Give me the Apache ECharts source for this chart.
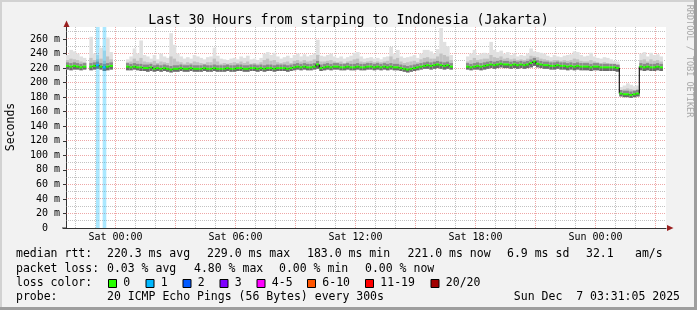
<!DOCTYPE html>
<html><head><meta charset="utf-8">
<script src="https://cdn.jsdelivr.net/npm/echarts@6/dist/echarts.min.js"></script>
<style>html,body{margin:0;padding:0;background:#f2f2f2}#c{width:697px;height:310px}</style>
</head><body><div id="c"></div>
<script>
// ---------- data ----------
const titleText = 'Last 30 Hours from starping to Indonesia (Jakarta)';
const startHour = -2.475;          // hours relative to Sat 00:00 (Fri 21:31)
const spanHours = 30;
const stepHours = 1 / 6;           // 10-minute samples
const xTickHours = [0, 6, 12, 18, 24];
const xTickLabels = ['Sat 00:00', 'Sat 06:00', 'Sat 12:00', 'Sat 18:00', 'Sun 00:00'];
const yTickValues = [0, 20, 40, 60, 80, 100, 120, 140, 160, 180, 200, 220, 240, 260];

// median RTT (ms)
const median = [
  223,222,223,222,221,222,null,222,223,224,
  222,221,222,223,null,null,null,null,222,221,
  222,221,221,220,220,221,219,220,219,220,
  219,218,219,219,220,219,219,220,219,219,
  219,220,219,219,220,219,219,219,220,219,
  219,220,220,219,219,220,220,219,220,219,
  220,220,219,220,220,220,219,220,221,222,
  221,222,221,221,222,225,220,221,222,221,
  222,222,221,221,222,221,221,222,221,221,
  222,222,221,222,221,222,221,222,221,221,
  220,219,218,219,220,221,222,223,224,223,
  224,225,224,223,224,222,null,null,null,null,
  222,221,222,223,222,223,224,225,224,225,
  226,225,225,224,225,224,225,224,225,227,
  229,226,225,224,224,223,223,224,223,223,
  222,223,222,223,222,222,222,221,222,222,
  221,221,221,221,221,220,185,184,184,183,
  184,185,222,221,222,221,221,222,221,null
];
// lowest ping of each sample (ms)
const smokeLo = [
  218,217,218,218,217,218,null,217,218,219,
  218,216,217,218,null,null,null,null,217,217,
  218,217,216,216,215,216,215,216,215,216,
  215,214,215,215,216,215,215,216,215,215,
  215,216,215,215,216,215,215,215,216,215,
  215,216,216,215,215,216,216,215,216,215,
  216,216,215,216,216,216,215,216,217,218,
  217,218,217,217,218,219,216,217,218,217,
  218,218,217,217,218,217,217,218,217,217,
  218,218,217,218,217,218,217,218,217,217,
  216,215,214,215,216,217,218,219,219,218,
  219,220,219,218,219,218,null,null,null,null,
  218,217,218,218,217,218,219,220,219,220,
  221,220,220,219,220,219,220,219,220,221,
  223,221,220,219,219,218,218,219,218,218,
  217,218,217,218,217,217,217,216,217,217,
  216,216,216,216,216,215,181,180,180,179,
  180,181,217,216,217,216,216,217,216,null
];
// upper edge of dense smoke (ms)
const smokeMid = [
  231,233,232,231,229,228,null,234,231,232,
  233,230,236,232,null,null,null,null,228,229,
  233,230,234,229,228,228,230,227,229,228,
  227,236,233,229,228,226,228,227,229,228,
  227,226,228,228,233,229,226,227,226,227,
  228,227,229,227,229,226,227,226,228,231,
  233,230,231,228,227,228,229,227,230,231,
  229,231,229,230,232,238,229,229,230,231,
  229,228,229,227,229,230,232,233,229,228,
  229,230,228,229,228,229,230,236,232,234,
  229,227,228,229,230,228,232,234,235,233,
  233,236,240,238,236,231,null,null,null,null,
  229,231,234,231,232,233,233,238,235,234,
  236,233,234,232,233,231,232,231,233,237,
  236,235,233,232,231,230,231,231,230,231,
  230,231,233,232,230,229,229,231,229,228,
  227,228,227,226,225,224,190,191,192,191,
  190,191,231,232,229,232,230,231,229,null
];
// highest ping of each sample (ms)
const smokeHi = [
  238,245,243,240,236,234,null,263,240,238,
  248,244,262,242,null,null,null,null,232,236,
  247,240,258,238,236,233,238,232,240,236,
  234,268,252,240,236,233,235,233,238,236,
  234,232,235,236,248,237,233,232,231,233,
  234,232,236,234,237,232,233,231,234,240,
  242,238,241,236,233,235,237,234,238,240,
  236,239,236,238,240,259,237,236,238,240,
  236,234,236,233,235,237,241,242,236,233,
  234,235,233,234,232,235,236,249,240,245,
  236,234,235,236,238,234,240,245,245,243,
  240,246,275,256,250,238,null,null,null,null,
  236,240,245,238,240,241,240,256,245,242,
  244,240,242,238,240,236,238,237,240,247,
  243,242,241,240,237,235,238,236,235,237,
  238,239,243,242,238,236,237,241,236,234,
  233,235,234,232,230,229,194,196,199,197,
  195,196,240,242,236,241,238,239,236,null
];
// samples with packet loss (index into the arrays above) and lost pings
const lossSamples = [9, 11];
const lossPings = [1, 1];

const lossLabels = ['0', '1', '2', '3', '4-5', '6-10', '11-19', '20/20'];
const lossColors = ['#26ff00', '#00b8ff', '#0059ff', '#7e00ff', '#ff00ff', '#ff5500', '#ff0000', '#a10000'];

const statsMedian = ['median rtt:', '220.3 ms avg', '229.0 ms max', '183.0 ms min', '221.0 ms now', '6.9 ms sd', '32.1', 'am/s'];
const statsLoss = ['packet loss:', '0.03 % avg', '4.80 % max', '0.00 % min', '0.00 % now'];
const probeText = ['probe:', '20 ICMP Echo Pings (56 Bytes) every 300s'];
const dateText = 'Sun Dec  7 03:31:05 2025';
const yAxisName = 'Seconds';
const sideText = 'RRDTOOL / TOBI OETIKER';

// ---------- layout / style ----------
const xMin = startHour, xMax = startHour + spanHours, yMax = 276.5;
const mono = '"DejaVu Sans Mono", monospace';
const legendFont = '11.5px ' + mono;
const statsMedianX = [16, 107, 207, 307, 407.5, 507, 586, 635];
const statsLossX = [16, 107, 194, 279, 365];
const probeX = [16, 107];
const lossBoxX = [108, 145.5, 182.5, 219.5, 256.5, 307, 365, 430.5];
const lineY = [254.5, 269, 283, 297.5];

function lossClass(k) {
  if (k <= 0) return 0;
  if (k <= 3) return k;
  if (k <= 5) return 4;
  if (k <= 10) return 5;
  if (k <= 19) return 6;
  return 7;
}

const sampleData = [];
median.forEach((m, i) => {
  if (m == null) return;
  sampleData.push([startHour + i * stepHours, m, smokeLo[i], smokeMid[i], smokeHi[i], i]);
});

const gridData = [];
for (let h = Math.ceil(xMin); h <= Math.floor(xMax); h++) gridData.push([0, h, h % 3 === 0 ? 1 : 0]);
for (let v = 10; v < yMax; v += 10) gridData.push([1, v, v % 20 === 0 ? 1 : 0]);

function renderGrid(params, api) {
  const kind = api.value(0), v = api.value(1), major = api.value(2);
  const stroke = major ? 'rgba(222,79,79,0.5)' : 'rgba(143,143,143,0.55)';
  if (kind === 0) {
    const a = api.coord([v, 0]), b = api.coord([v, yMax]);
    const x = Math.floor(a[0]) + 0.5;
    return {type: 'line', shape: {x1: x, y1: a[1], x2: x, y2: b[1]}, style: {stroke, lineWidth: 1, lineDash: [1, 1]}};
  }
  const a = api.coord([xMin, v]), b = api.coord([xMax, v]);
  const y = Math.floor(a[1]) + 0.5;
  return {type: 'line', shape: {x1: a[0], y1: y, x2: b[0], y2: y}, style: {stroke, lineWidth: 1, lineDash: [1, 1]}};
}

function renderSample(params, api) {
  const t = api.value(0), med = api.value(1), lo = api.value(2), mid = api.value(3), hi = api.value(4), idx = api.value(5);
  const p0 = api.coord([t, med]), p1 = api.coord([t + stepHours, med]);
  const x0 = p0[0], w = p1[0] - p0[0] + 0.3;
  const yMed = p0[1];
  const yLo = api.coord([t, lo])[1], yMid = api.coord([t, mid])[1], yHi = api.coord([t, hi])[1];
  const ch = [];
  ch.push({type: 'rect', shape: {x: x0, y: yHi, width: w, height: yLo - yHi}, style: {fill: '#e0e0e0'}});
  ch.push({type: 'rect', shape: {x: x0, y: yMid, width: w, height: yLo - yMid}, style: {fill: '#c2c2c2'}});
  ch.push({type: 'rect', shape: {x: x0, y: yMed - 3.5, width: w, height: 2.5}, style: {fill: '#8a8a8a'}});
  ch.push({type: 'rect', shape: {x: x0, y: yMed, width: w, height: yLo - yMed}, style: {fill: '#6a6a6a'}});
  let col = lossColors[0];
  const li = lossSamples.indexOf(idx);
  if (li >= 0) {
    col = lossColors[lossClass(lossPings[li])];
    const top = api.coord([t, yMax])[1], bot = api.coord([t, 0])[1];
    ch.push({type: 'rect', shape: {x: x0, y: top, width: w, height: bot - top}, style: {fill: col, opacity: 0.33}});
  }
  const prev = idx > 0 ? median[idx - 1] : null;
  if (prev != null && prev !== med) {
    const yp = api.coord([t, prev])[1];
    ch.push({type: 'line', shape: {x1: x0, y1: yp, x2: x0, y2: yMed}, style: {stroke: '#1a1a1a', lineWidth: 1.2}});
  }
  ch.push({type: 'rect', shape: {x: x0, y: yMed - 1, width: w, height: 2}, style: {fill: col}});
  return {type: 'group', children: ch};
}

function txt(text, x, y, font, align, extra) {
  return Object.assign({
    type: 'text', x, y, silent: true,
    style: {text, font, fill: '#000', textAlign: align, align, textVerticalAlign: 'middle', verticalAlign: 'middle'}
  }, extra || {});
}

const graphics = [];
// frame shading
graphics.push({type: 'rect', shape: {x: 0, y: 0, width: 697, height: 2}, style: {fill: '#d2d2d2'}, silent: true});
graphics.push({type: 'rect', shape: {x: 0, y: 0, width: 2, height: 310}, style: {fill: '#d2d2d2'}, silent: true});
graphics.push({type: 'rect', shape: {x: 0, y: 307, width: 697, height: 3}, style: {fill: '#9e9e9e'}, silent: true});
graphics.push({type: 'rect', shape: {x: 694, y: 0, width: 3, height: 310}, style: {fill: '#9e9e9e'}, silent: true});
// axis arrows and left stub of the time axis
graphics.push({type: 'rect', shape: {x: 62, y: 227.5, width: 5, height: 1}, style: {fill: '#333'}, silent: true, z: 10});
graphics.push({type: 'polygon', shape: {points: [[63.5, 27], [69.5, 27], [66.5, 20.5]]}, style: {fill: '#9a1f1f'}, silent: true, z: 10});
graphics.push({type: 'polygon', shape: {points: [[667, 225], [667, 231], [673.5, 228]]}, style: {fill: '#9a1f1f'}, silent: true, z: 10});
// title and side texts
graphics.push(txt(titleText, 348.5, 20.5, '13.3px ' + mono, 'center'));
graphics.push(txt(yAxisName, 11, 127, legendFont, 'center', {rotation: Math.PI / 2}));
const side = txt(sideText, 689.5, 61, '8.5px ' + mono, 'center', {rotation: -Math.PI / 2});
side.style.fill = '#a8a8a8';
graphics.push(side);
// stats lines
statsMedian.forEach((s, i) => graphics.push(txt(s, statsMedianX[i], lineY[0], legendFont, 'left')));
statsLoss.forEach((s, i) => graphics.push(txt(s, statsLossX[i], lineY[1], legendFont, 'left')));
graphics.push(txt('loss color:', 16, lineY[2], legendFont, 'left'));
lossLabels.forEach((s, i) => {
  graphics.push({type: 'rect', shape: {x: lossBoxX[i] + 0.5, y: lineY[2] - 3.5, width: 8, height: 8},
    style: {fill: lossColors[i], stroke: '#000', lineWidth: 1}, silent: true});
  graphics.push(txt(s, lossBoxX[i] + 15.3, lineY[2], legendFont, 'left'));
});
probeText.forEach((s, i) => graphics.push(txt(s, probeX[i], lineY[3], legendFont, 'left')));
graphics.push(txt(dateText, 680, lineY[3], legendFont, 'right'));

const chart = echarts.init(document.getElementById('c'), null, {renderer: 'canvas'});
chart.setOption({
  animation: false,
  backgroundColor: '#f2f2f2',
  grid: {left: 66, right: 31, top: 27, bottom: 82, show: true, backgroundColor: '#ffffff', borderWidth: 0},
  xAxis: {
    type: 'value', min: xMin, max: xMax,
    axisLine: {show: true, onZero: false, lineStyle: {color: '#333', width: 1}},
    axisTick: {show: false},
    splitLine: {show: false},
    axisLabel: {
      customValues: xTickHours,
      formatter: v => { const k = xTickHours.indexOf(v); return k >= 0 ? xTickLabels[k] : ''; },
      fontFamily: mono, fontSize: 10, color: '#000', margin: 4.5
    }
  },
  yAxis: {
    type: 'value', min: 0, max: yMax,
    axisLine: {show: true, onZero: false, lineStyle: {color: '#333', width: 1}},
    axisTick: {show: true, customValues: yTickValues, length: 3, lineStyle: {color: '#333'}},
    splitLine: {show: false},
    axisLabel: {
      customValues: yTickValues,
      formatter: v => v === 0 ? '0  ' : v + ' m',
      fontFamily: mono, fontSize: 10, color: '#000', margin: 6
    }
  },
  series: [
    {type: 'custom', z: 1, silent: true, clip: true, data: gridData, renderItem: renderGrid, encode: {x: 1, y: 1}},
    {type: 'custom', z: 3, silent: true, clip: true, data: sampleData, renderItem: renderSample, encode: {x: 0, y: 1}}
  ],
  graphic: {elements: graphics}
});
</script>
</body></html>
